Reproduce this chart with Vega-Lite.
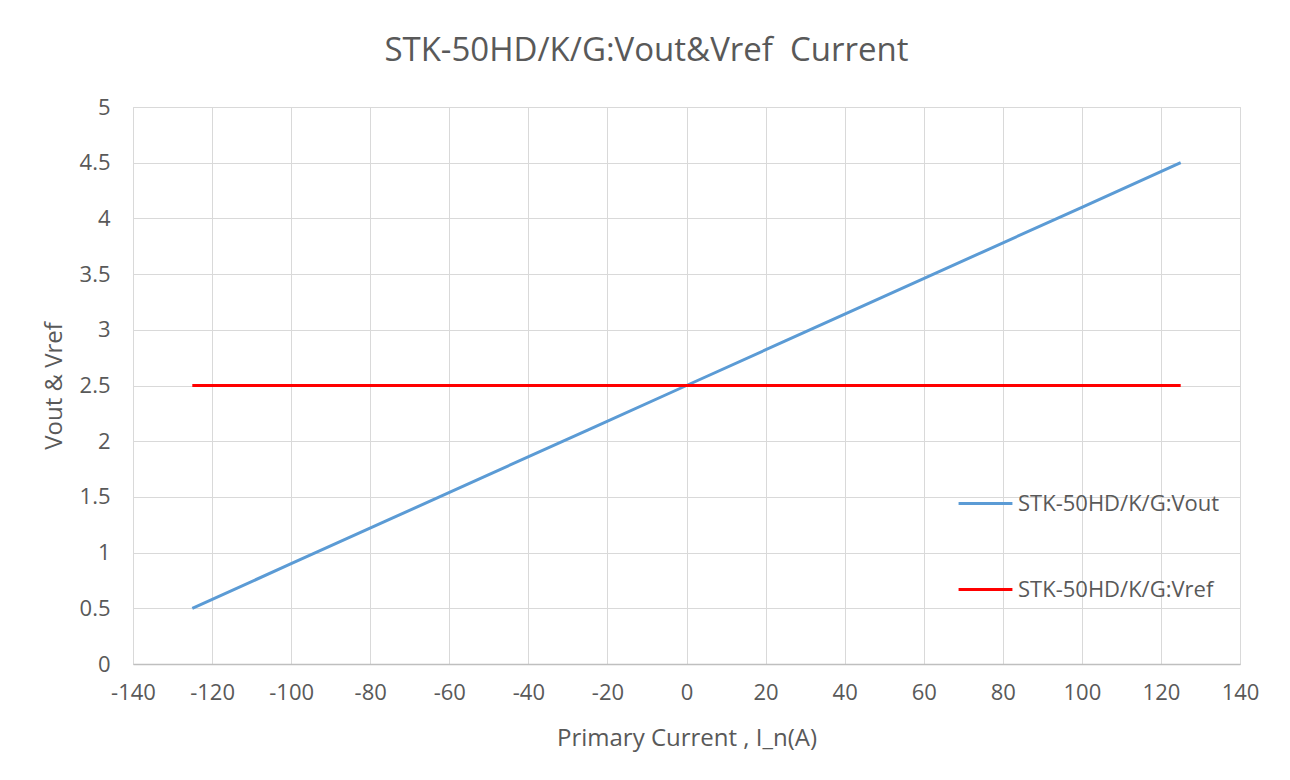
{
  "$schema": "https://vega.github.io/schema/vega-lite/v6.json",
  "width": 1107,
  "height": 557,
  "autosize": {"type": "none"},
  "padding": {"left": 133, "top": 107, "right": 50, "bottom": 116},
  "background": "white",
  "title": {
    "text": "STK-50HD/K/G:Vout&Vref\u00a0 Current",
    "font": "Open Sans",
    "fontSize": 33,
    "fontWeight": "normal",
    "color": "#595959",
    "anchor": "middle",
    "dx": -40,
    "offset": 28
  },
  "data": {
    "values": [
      {"current": -125, "value": 0.5, "series": "STK-50HD/K/G:Vout"},
      {"current": -100, "value": 0.9, "series": "STK-50HD/K/G:Vout"},
      {"current": -75, "value": 1.3, "series": "STK-50HD/K/G:Vout"},
      {"current": -50, "value": 1.7, "series": "STK-50HD/K/G:Vout"},
      {"current": -25, "value": 2.1, "series": "STK-50HD/K/G:Vout"},
      {"current": 0, "value": 2.5, "series": "STK-50HD/K/G:Vout"},
      {"current": 25, "value": 2.9, "series": "STK-50HD/K/G:Vout"},
      {"current": 50, "value": 3.3, "series": "STK-50HD/K/G:Vout"},
      {"current": 75, "value": 3.7, "series": "STK-50HD/K/G:Vout"},
      {"current": 100, "value": 4.1, "series": "STK-50HD/K/G:Vout"},
      {"current": 125, "value": 4.5, "series": "STK-50HD/K/G:Vout"},
      {"current": -125, "value": 2.5, "series": "STK-50HD/K/G:Vref"},
      {"current": -100, "value": 2.5, "series": "STK-50HD/K/G:Vref"},
      {"current": -75, "value": 2.5, "series": "STK-50HD/K/G:Vref"},
      {"current": -50, "value": 2.5, "series": "STK-50HD/K/G:Vref"},
      {"current": -25, "value": 2.5, "series": "STK-50HD/K/G:Vref"},
      {"current": 0, "value": 2.5, "series": "STK-50HD/K/G:Vref"},
      {"current": 25, "value": 2.5, "series": "STK-50HD/K/G:Vref"},
      {"current": 50, "value": 2.5, "series": "STK-50HD/K/G:Vref"},
      {"current": 75, "value": 2.5, "series": "STK-50HD/K/G:Vref"},
      {"current": 100, "value": 2.5, "series": "STK-50HD/K/G:Vref"},
      {"current": 125, "value": 2.5, "series": "STK-50HD/K/G:Vref"}
    ]
  },
  "mark": {"type": "line", "strokeWidth": 3},
  "encoding": {
    "x": {
      "field": "current",
      "type": "quantitative",
      "scale": {"domain": [-140, 140], "nice": false, "zero": false},
      "axis": {
        "title": "Primary Current , I_n(A)",
        "values": [-140, -120, -100, -80, -60, -40, -20, 0, 20, 40, 60, 80, 100, 120, 140],
        "labelExpr": "datum.value + ''",
        "labelFont": "Open Sans",
        "labelFontSize": 22,
        "labelColor": "#595959",
        "labelPadding": 18,
        "labelFlush": false,
        "titleFont": "Open Sans",
        "titleFontSize": 24,
        "titleFontWeight": "normal",
        "titleColor": "#595959",
        "titlePadding": 23,
        "ticks": false,
        "domainColor": "#bfbfbf",
        "domainWidth": 1.5,
        "gridColor": "#d9d9d9",
        "gridWidth": 1
      }
    },
    "y": {
      "field": "value",
      "type": "quantitative",
      "scale": {"domain": [0, 5], "nice": false},
      "axis": {
        "title": "Vout & Vref",
        "values": [0, 0.5, 1, 1.5, 2, 2.5, 3, 3.5, 4, 4.5, 5],
        "labelExpr": "datum.value + ''",
        "labelFont": "Open Sans",
        "labelFontSize": 22,
        "labelColor": "#595959",
        "labelPadding": 23,
        "labelFlush": false,
        "titleFont": "Open Sans",
        "titleFontSize": 24,
        "titleFontWeight": "normal",
        "titleColor": "#595959",
        "titlePadding": 13,
        "ticks": false,
        "domain": false,
        "gridColor": "#d9d9d9",
        "gridWidth": 1
      }
    },
    "color": {
      "field": "series",
      "type": "nominal",
      "scale": {
        "domain": ["STK-50HD/K/G:Vout", "STK-50HD/K/G:Vref"],
        "range": ["#5b9bd5", "#ff0000"]
      },
      "legend": {
        "title": null,
        "orient": "none",
        "legendX": 824,
        "legendY": 368,
        "symbolType": "stroke",
        "symbolSize": 2900,
        "symbolStrokeWidth": 3,
        "labelFont": "Open Sans",
        "labelFontSize": 22,
        "labelColor": "#595959",
        "labelOffset": 4,
        "rowPadding": 46,
        "labelLimit": 400
      }
    }
  },
  "config": {
    "view": {"stroke": "#d9d9d9", "strokeWidth": 1}
  }
}
